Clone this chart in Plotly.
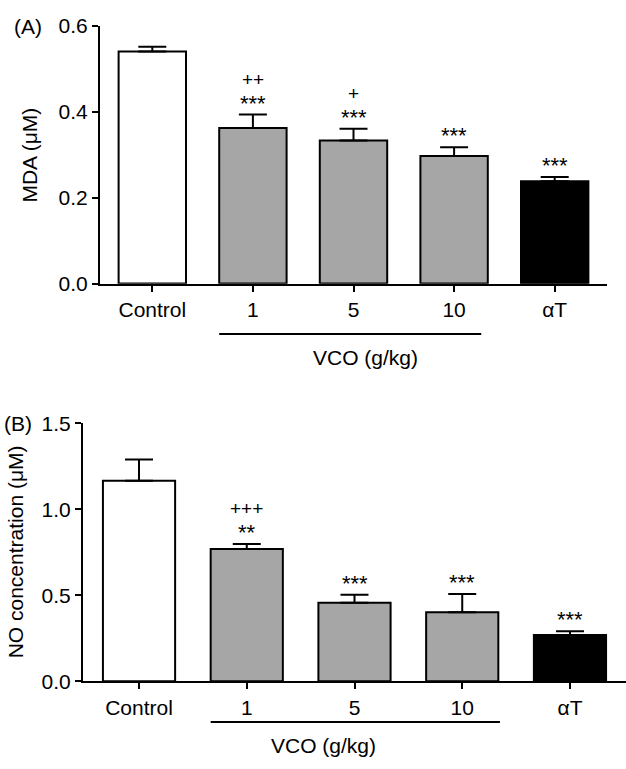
import plotly.graph_objects as go
from plotly.subplots import make_subplots

groups = ["Control", "1", "5", "10", "\u03b1T"]
bar_colors = ["#ffffff", "#a6a6a6", "#a6a6a6", "#a6a6a6", "#000000"]

mda_mean = [0.540, 0.362, 0.333, 0.297, 0.238]
mda_sem = [0.011, 0.031, 0.027, 0.020, 0.010]
mda_stars = ["", "***", "***", "***", "***"]
mda_plus = ["", "++", "+", "", ""]

no_mean = [1.166, 0.769, 0.457, 0.402, 0.269]
no_sem = [0.124, 0.030, 0.047, 0.106, 0.022]
no_stars = ["", "**", "***", "***", "***"]
no_plus = ["", "+++", "", "", ""]

W, H = 626, 769
FONT = "Liberation Sans, Arial, sans-serif"


def px_x(p):
    return p / W


def px_y(p):
    return 1 - p / H


fig = make_subplots(rows=2, cols=1)

panels = [
    (1, mda_mean, mda_sem, mda_stars, mda_plus),
    (2, no_mean, no_sem, no_stars, no_plus),
]
for row, mean, sem, stars, plus in panels:
    fig.add_trace(
        go.Bar(
            x=list(range(len(groups))),
            y=mean,
            marker={"color": bar_colors, "line": {"color": "black", "width": 2}},
            error_y={
                "type": "data",
                "symmetric": False,
                "array": sem,
                "arrayminus": [0] * len(sem),
                "color": "black",
                "thickness": 2,
                "width": 14,
            },
            showlegend=False,
        ),
        row=row,
        col=1,
    )
    xref = "x" if row == 1 else "x2"
    yref = "y" if row == 1 else "y2"
    for i, (m, s) in enumerate(zip(mean, sem)):
        if stars[i]:
            fig.add_annotation(
                x=i, y=m + s, xref=xref, yref=yref, text=stars[i],
                showarrow=False, yanchor="bottom", yshift=-3,
                font={"family": FONT, "size": 22, "color": "black"},
            )
        if plus[i]:
            fig.add_annotation(
                x=i, y=m + s, xref=xref, yref=yref, text=plus[i],
                showarrow=False, yanchor="bottom", yshift=23,
                font={"family": FONT, "size": 19, "color": "black"},
            )

axis_style = dict(
    showline=True,
    linecolor="black",
    linewidth=2,
    ticks="outside",
    ticklen=6,
    tickwidth=2,
    tickcolor="black",
    showgrid=False,
    zeroline=False,
    tickfont={"family": FONT, "size": 21, "color": "black"},
)

fig.update_xaxes(
    **axis_style,
    tickmode="array",
    tickvals=list(range(len(groups))),
    ticktext=groups,
    range=[-0.52, 4.52],
)
fig.update_yaxes(**axis_style, tickformat=".1f")

fig.update_xaxes(domain=[px_x(100), px_x(607)], row=1, col=1)
fig.update_yaxes(domain=[px_y(280), px_y(14)], range=[0, 0.6], dtick=0.2, row=1, col=1)
fig.update_xaxes(domain=[px_x(83), 1.0], row=2, col=1)
fig.update_yaxes(domain=[px_y(690), px_y(424)], range=[0, 1.5], dtick=0.5, row=2, col=1)

# VCO brackets under the dose groups
fig.add_shape(type="line", xref="x", yref="paper", x0=0.665, x1=3.27,
              y0=px_y(332), y1=px_y(332), line={"color": "black", "width": 2})
fig.add_shape(type="line", xref="x2", yref="paper", x0=0.665, x1=3.35,
              y0=px_y(732), y1=px_y(732), line={"color": "black", "width": 2})

text_font = {"family": FONT, "size": 21, "color": "black"}
labels = [
    ("VCO (g/kg)", px_x(365), px_y(356), 0),
    ("VCO (g/kg)", px_x(323), px_y(756), 0),
    ("MDA (\u03bcM)", px_x(30), px_y(148), -90),
    ("NO concentration (\u03bcM)", px_x(15), px_y(557), -90),
    ("(A)", px_x(28), px_y(15), 0),
    ("(B)", px_x(18), px_y(424), 0),
]
for text, x, y, angle in labels:
    fig.add_annotation(
        x=x, y=y, xref="paper", yref="paper", text=text, showarrow=False,
        xanchor="center", yanchor="middle", textangle=angle, font=text_font,
    )

fig.update_layout(
    width=W,
    height=H,
    autosize=False,
    bargap=0.33,
    margin={"l": 0, "r": 0, "t": 0, "b": 0},
    plot_bgcolor="#ffffff",
    paper_bgcolor="#ffffff",
    font={"family": FONT, "color": "black"},
)

fig.write_html(
    "out.html",
    config={"displayModeBar": False, "responsive": False},
    post_script="document.body.style.margin = '0'; document.body.style.overflow = 'hidden';",
)
